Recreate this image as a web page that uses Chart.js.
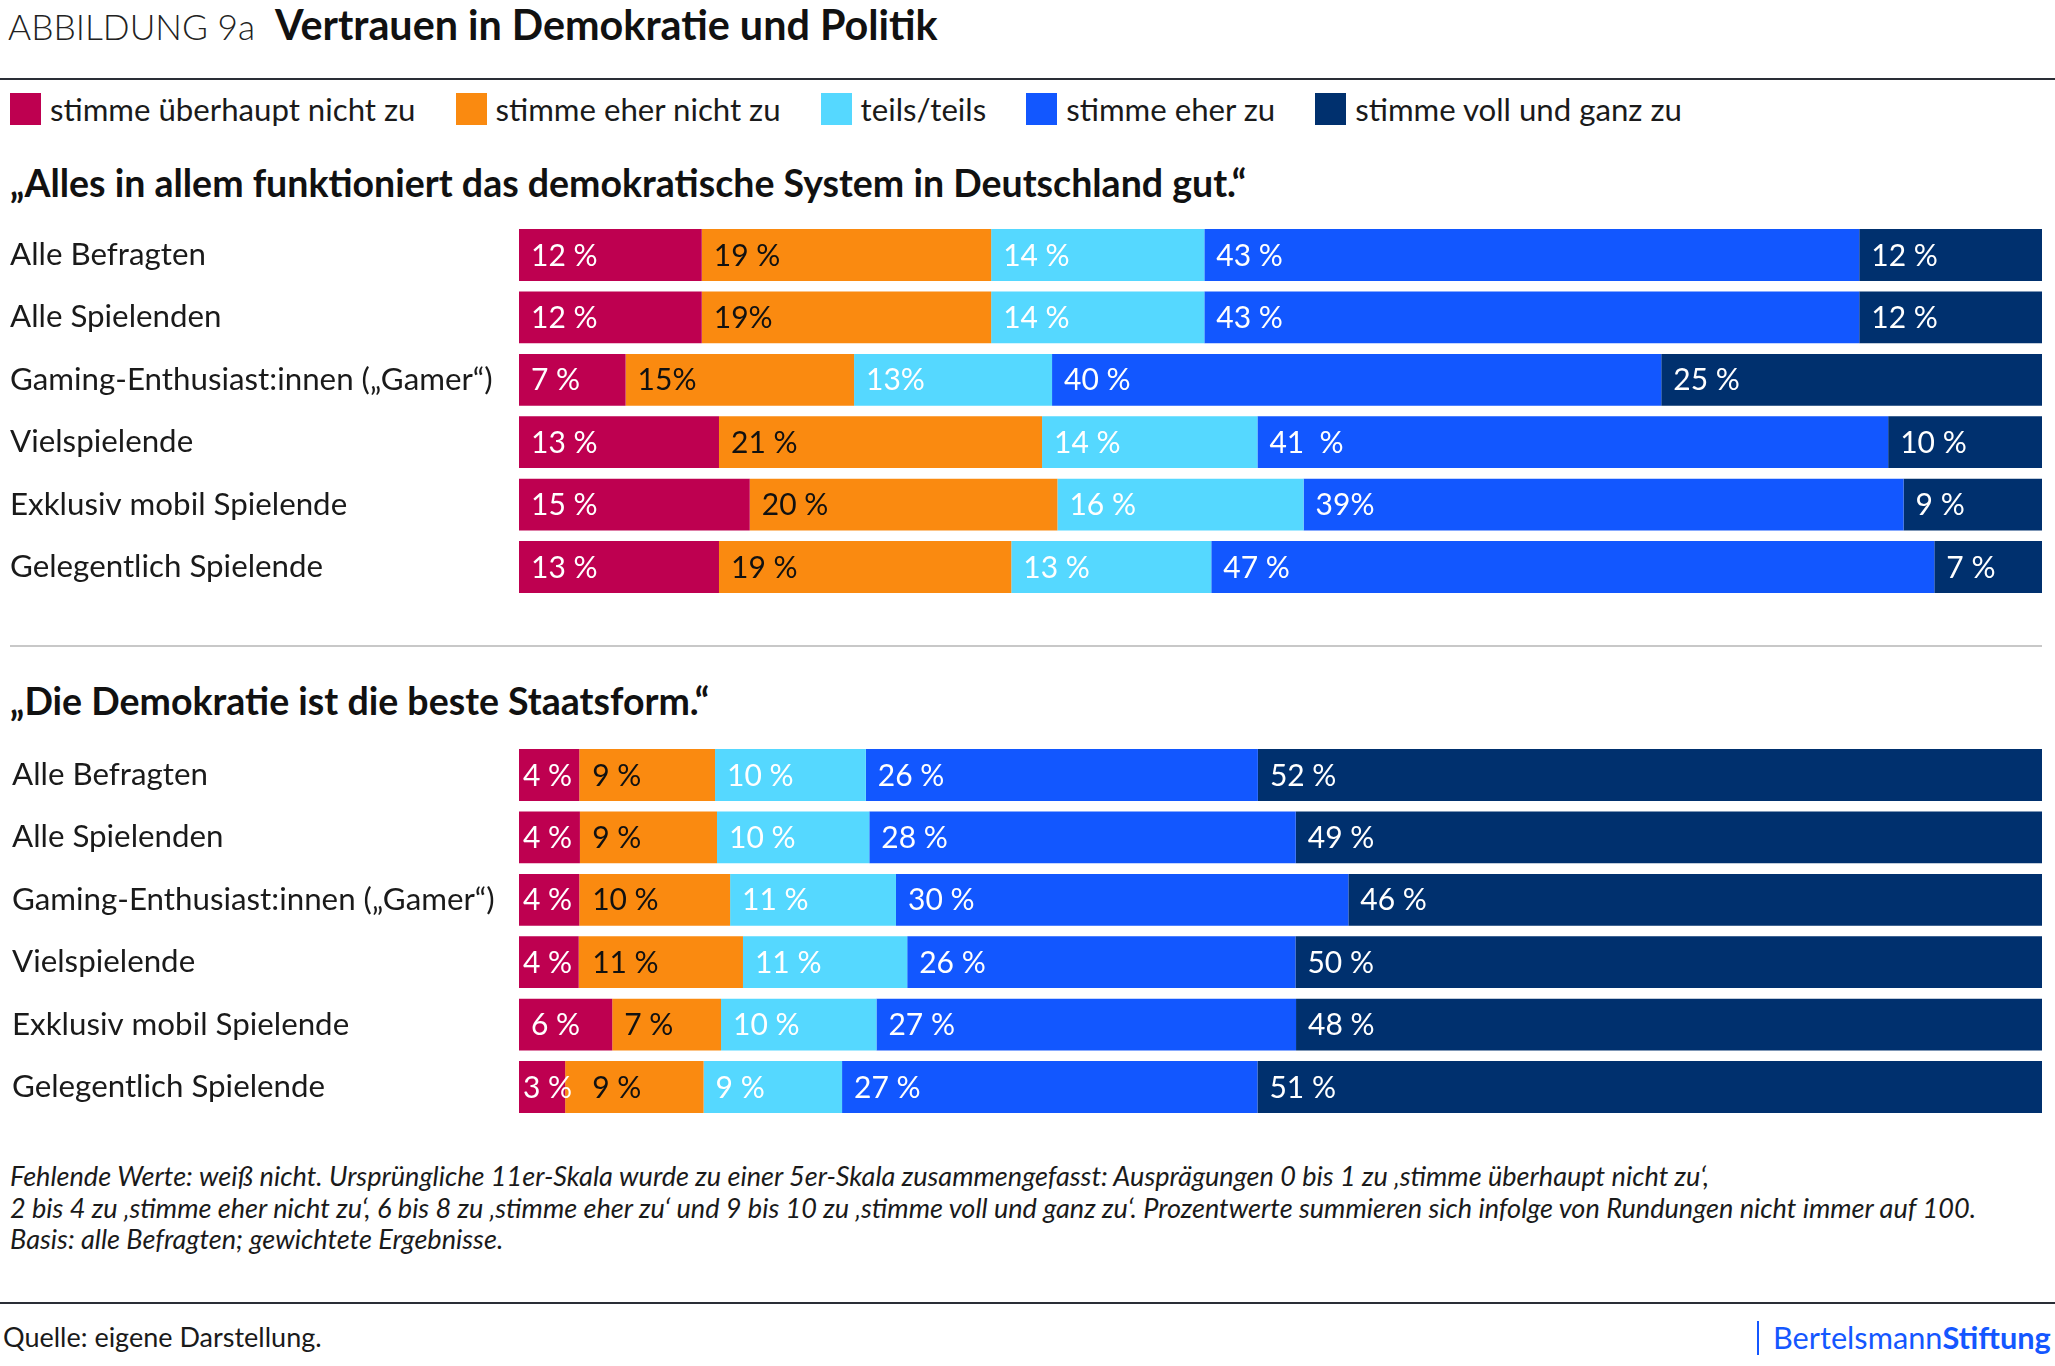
<!DOCTYPE html>
<html lang="de">
<head>
<meta charset="utf-8">
<script src="https://cdn.jsdelivr.net/npm/chart.js@4"></script>
<style>
  html, body { margin: 0; padding: 0; background: #fff; }
  body { width: 2055px; height: 1366px; position: relative; overflow: hidden; font-family: Lato, "Noto Sans", sans-serif; color: #1a1a1a; }
  .abs { position: absolute; white-space: nowrap; }
  #title { left: 8px; top: 0px; line-height: 48px; }
  #title .light { font-weight: 300; color: #222; font-size: 35.3px; }
  #title .bold { font-weight: 700; color: #111; margin-left: 20px; font-size: 41.3px; }
  .rule { position: absolute; left: 0; width: 2055px; height: 2px; background: #2a2e36; }
  #legend { left: 10px; top: 93px; height: 32px; display: flex; align-items: center; font-size: 31.2px; }
  #legend .item { display: flex; align-items: center; margin-right: 40px; }
  #legend .box { width: 31px; height: 32px; margin-right: 9px; }
  .sect { left: 10px; font-size: 37.5px; font-weight: 700; color: #111; line-height: 44px; }
  .sep { position: absolute; left: 10px; width: 2032px; height: 2px; background: #c8c8c8; }
  .chartbox { position: absolute; left: 0; width: 2055px; }
  #foot { left: 10px; top: 1160px; font-size: 27.1px; font-style: italic; line-height: 31.5px; color: #1a1a1a; }
  #source { left: 3px; top: 1321px; font-size: 27px; line-height: 32px; }
  #brand { left: 1757px; top: 1321px; height: 34px; border-left: 2px solid #1457ff; padding-left: 14px; font-size: 30.7px; line-height: 34px; color: #1457ff; }
  #brand b { font-weight: 700; }
</style>
</head>
<body>
<div id="title" class="abs"><span class="light">ABBILDUNG 9a</span><span class="bold">Vertrauen in Demokratie und Politik</span></div>
<div class="rule" style="top:78px"></div>
<div id="legend" class="abs"></div>
<div class="sect abs" style="top:161px">„Alles in allem funktioniert das demokratische System in Deutschland gut.“</div>
<div class="chartbox" style="top:205px;height:412px"><canvas id="c1"></canvas></div>
<div class="sep" style="top:645px"></div>
<div class="sect abs" style="top:679px">„Die Demokratie ist die beste Staatsform.“</div>
<div class="chartbox" style="top:725px;height:412px"><canvas id="c2"></canvas></div>
<div id="foot" class="abs">Fehlende Werte: weiß nicht. Ursprüngliche 11er-Skala wurde zu einer 5er-Skala zusammengefasst: Ausprägungen 0 bis 1 zu ‚stimme überhaupt nicht zu‘,<br>2 bis 4 zu ‚stimme eher nicht zu‘, 6 bis 8 zu ‚stimme eher zu‘ und 9 bis 10 zu ‚stimme voll und ganz zu‘. Prozentwerte summieren sich infolge von Rundungen nicht immer auf 100.<br>Basis: alle Befragten; gewichtete Ergebnisse.</div>
<div class="rule" style="top:1302px"></div>
<div id="source" class="abs">Quelle: eigene Darstellung.</div>
<div id="brand" class="abs">Bertelsmann<b>Stiftung</b></div>

<script>
// ---------- DATA ----------
const categories1 = ["Alle Befragten", "Alle Spielenden", "Gaming-Enthusiast:innen („Gamer“)", "Vielspielende", "Exklusiv mobil Spielende", "Gelegentlich Spielende"];
const categories2 = ["Alle Befragten", "Alle Spielenden", "Gaming-Enthusiast:innen („Gamer“)", "Vielspielende", "Exklusiv mobil Spielende", "Gelegentlich Spielende"];
const seriesNames = ["stimme überhaupt nicht zu", "stimme eher nicht zu", "teils/teils", "stimme eher zu", "stimme voll und ganz zu"];

// Statement 1: „Alles in allem funktioniert das demokratische System in Deutschland gut.“
const s1_ueberhauptNicht = [12, 12, 7, 13, 15, 13];
const s1_eherNicht       = [19, 19, 15, 21, 20, 19];
const s1_teils           = [14, 14, 13, 14, 16, 13];
const s1_eherZu          = [43, 43, 40, 41, 39, 47];
const s1_vollZu          = [12, 12, 25, 10, 9, 7];
// printed labels statement 1
const s1_lab_ueberhauptNicht = ["12 %", "12 %", "7 %", "13 %", "15 %", "13 %"];
const s1_lab_eherNicht       = ["19 %", "19%", "15%", "21 %", "20 %", "19 %"];
const s1_lab_teils           = ["14 %", "14 %", "13%", "14 %", "16 %", "13 %"];
const s1_lab_eherZu          = ["43 %", "43 %", "40 %", "41  %", "39%", "47 %"];
const s1_lab_vollZu          = ["12 %", "12 %", "25 %", "10 %", "9 %", "7 %"];

// Statement 2: „Die Demokratie ist die beste Staatsform.“
const s2_ueberhauptNicht = [4, 4, 4, 4, 6, 3];
const s2_eherNicht       = [9, 9, 10, 11, 7, 9];
const s2_teils           = [10, 10, 11, 11, 10, 9];
const s2_eherZu          = [26, 28, 30, 26, 27, 27];
const s2_vollZu          = [52, 49, 46, 50, 48, 51];
// printed labels statement 2
const s2_lab_ueberhauptNicht = ["4 %", "4 %", "4 %", "4 %", "6 %", "3 %"];
const s2_lab_eherNicht       = ["9 %", "9 %", "10 %", "11 %", "7 %", "9 %"];
const s2_lab_teils           = ["10 %", "10 %", "11 %", "11 %", "10 %", "9 %"];
const s2_lab_eherZu          = ["26 %", "28 %", "30 %", "26 %", "27 %", "27 %"];
const s2_lab_vollZu          = ["52 %", "49 %", "46 %", "50 %", "48 %", "51 %"];

// ---------- STYLE ----------
const seriesColors = ["#be0050", "#fa8a10", "#55d8ff", "#1257ff", "#00306e"];
const labelColors  = ["#ffffff", "#111111", "#ffffff", "#ffffff", "#ffffff"];
const LABEL_FONT = '400 30px Lato, "Noto Sans", sans-serif';

// legend
const legendEl = document.getElementById('legend');
seriesNames.forEach((n, i) => {
  const it = document.createElement('div'); it.className = 'item';
  const b = document.createElement('div'); b.className = 'box'; b.style.background = seriesColors[i];
  const t = document.createElement('span'); t.textContent = n;
  it.appendChild(b); it.appendChild(t); legendEl.appendChild(it);
});

// 100 % stacked: each row scaled to its own total
function buildDatasets(seriesVals, seriesLabels) {
  const n = seriesVals[0].length;
  const totals = [];
  for (let i = 0; i < n; i++) totals.push(seriesVals.reduce((s, arr) => s + arr[i], 0));
  return seriesVals.map((vals, si) => ({
    label: seriesNames[si],
    data: vals.map((v, i) => v / totals[i] * 100),
    rawValues: vals,
    segLabels: seriesLabels[si],
    labelColor: labelColors[si],
    backgroundColor: seriesColors[si],
    borderWidth: 0,
    barPercentage: 0.83,
    categoryPercentage: 1.0
  }));
}

const segLabelPlugin = {
  id: 'segLabels',
  afterDatasetsDraw(chart) {
    const ctx = chart.ctx;
    ctx.save();
    ctx.font = LABEL_FONT;
    ctx.textBaseline = 'middle';
    ctx.textAlign = 'left';
    const nRows = chart.data.labels.length;
    for (let i = 0; i < nRows; i++) {
      let prevEnd = -Infinity;
      chart.data.datasets.forEach((ds, di) => {
        const bar = chart.getDatasetMeta(di).data[i];
        const left = Math.min(bar.base, bar.x);
        const pad = ds.rawValues[i] < 5 ? 4 : 12;
        const x = Math.max(left + pad, prevEnd + 20);
        const txt = ds.segLabels[i];
        ctx.fillStyle = ds.labelColor;
        ctx.fillText(txt, x, bar.y + 1);
        prevEnd = x + ctx.measureText(txt).width;
      });
    }
    ctx.restore();
  }
};

function makeChart(id, cats, seriesVals, seriesLabels, leftPad) {
  return new Chart(document.getElementById(id), {
    type: 'bar',
    data: { labels: cats, datasets: buildDatasets(seriesVals, seriesLabels) },
    options: {
      indexAxis: 'y',
      responsive: true,
      maintainAspectRatio: false,
      animation: false,
      events: [],
      layout: { padding: { left: leftPad, right: 13, top: 0, bottom: 0 } },
      plugins: { legend: { display: false }, tooltip: { enabled: false } },
      scales: {
        x: { stacked: true, min: 0, max: 100, display: false },
        y: {
          stacked: true,
          grid: { display: false },
          border: { display: false },
          ticks: {
            color: '#1a1a1a',
            font: { family: 'Lato, "Noto Sans", sans-serif', size: 31.3 },
            crossAlign: 'far',
            padding: 0
          },
          afterFit(scale) { scale.width = 519 - leftPad; }
        }
      }
    },
    plugins: [segLabelPlugin]
  });
}

makeChart('c1', categories1,
  [s1_ueberhauptNicht, s1_eherNicht, s1_teils, s1_eherZu, s1_vollZu],
  [s1_lab_ueberhauptNicht, s1_lab_eherNicht, s1_lab_teils, s1_lab_eherZu, s1_lab_vollZu], 10);
makeChart('c2', categories2,
  [s2_ueberhauptNicht, s2_eherNicht, s2_teils, s2_eherZu, s2_vollZu],
  [s2_lab_ueberhauptNicht, s2_lab_eherNicht, s2_lab_teils, s2_lab_eherZu, s2_lab_vollZu], 12);
</script>
</body>
</html>
